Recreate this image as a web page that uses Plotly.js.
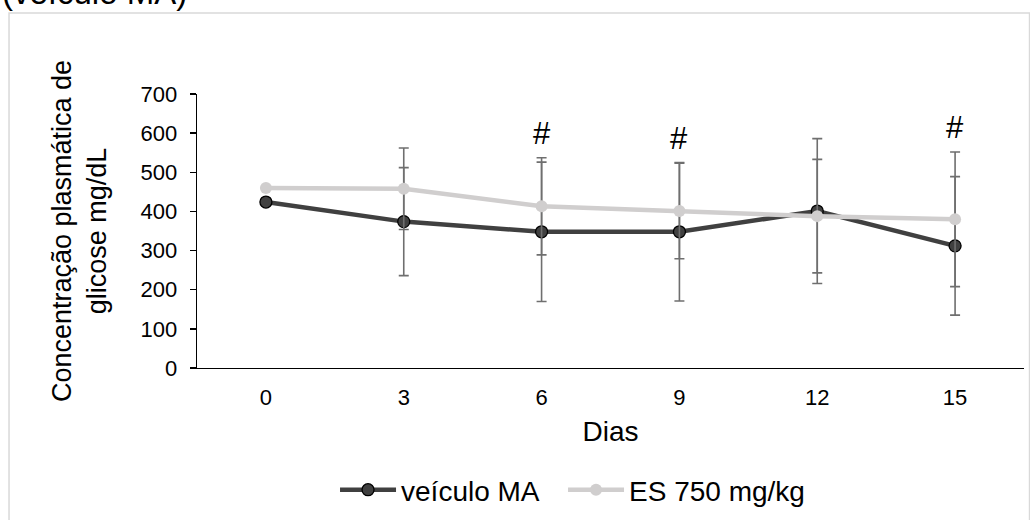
<!DOCTYPE html>
<html>
<head>
<meta charset="utf-8">
<script src="https://cdn.plot.ly/plotly-3.0.1.min.js"></script>
<style>
  html, body { margin: 0; padding: 0; background: #ffffff; }
  #chart { width: 1030px; height: 520px; }
</style>
</head>
<body>
<div id="chart"></div>
<script>
// ---- data ----
const days = ['0', '3', '6', '9', '12', '15'];
const veiculoMA = [424, 374, 348, 348, 401, 312];
const veiculoMAErr = [0, 138, 178, 177, 185, 177];
const es750 = [460, 458, 413, 401, 388, 380];
const es750Err = [0, 104, 124, 122, 145, 172];
const sigMarks = ['', '', '#', '#', '', '#'];
const seriesNames = ['veículo MA', 'ES 750 mg/kg'];
const titleText = '(veículo MA)';
const yTitle = 'Concentração plasmática de<br>glicose mg/dL';
const xTitle = 'Dias';

const FONT = 'Liberation Sans, Arial, sans-serif';
const errColor = '#6f6f6f';

const traces = [
  {
    x: days, y: veiculoMA, name: seriesNames[0], type: 'scatter', mode: 'lines+markers',
    legend: 'legend',
    line: { color: '#404040', width: 4.5 },
    marker: { color: '#404040', size: 12, line: { color: '#000000', width: 1.3 } },
    error_y: { type: 'data', array: veiculoMAErr, visible: true, color: errColor, thickness: 1.6, width: 5 }
  },
  {
    x: days, y: es750, name: seriesNames[1], type: 'scatter', mode: 'lines+markers',
    legend: 'legend2',
    line: { color: '#d0cece', width: 4.5 },
    marker: { color: '#d0cece', size: 12 },
    error_y: { type: 'data', array: es750Err, visible: true, color: errColor, thickness: 1.6, width: 5 }
  }
];

// significance marks placed above the highest error bar at each day
// (x given as category index so numeric-looking labels are not misread)
const annotations = [];
sigMarks.forEach((m, i) => {
  if (!m) return;
  const top = Math.max(veiculoMA[i] + veiculoMAErr[i], es750[i] + es750Err[i]);
  annotations.push({
    x: i, y: top, xref: 'x', yref: 'y', text: m, showarrow: false,
    yanchor: 'middle', yshift: 24, font: { family: FONT, size: 31, color: '#000000' }
  });
});
annotations.push({
  xref: 'paper', yref: 'paper', x: -0.2382, y: 1.37, xanchor: 'left', yanchor: 'middle',
  text: titleText, showarrow: false, font: { family: FONT, size: 33, color: '#000000' }
});

const legendBase = {
  orientation: 'h', xanchor: 'left', y: -0.44, yanchor: 'middle',
  font: { family: FONT, size: 28, color: '#000000' }, itemwidth: 56,
  bgcolor: 'rgba(0,0,0,0)'
};

const layout = {
  width: 1030, height: 520,
  margin: { l: 197, r: 6, t: 94, b: 151 },
  paper_bgcolor: '#ffffff', plot_bgcolor: '#ffffff',
  font: { family: FONT, color: '#000000' },
  showlegend: true,
  legend: Object.assign({}, legendBase, { x: 0.1669 }),
  legend2: Object.assign({}, legendBase, { x: 0.4426 }),
  xaxis: {
    type: 'category', range: [-0.5, 5.5], showgrid: false, zeroline: false,
    showline: true, linecolor: '#000000', linewidth: 1.3, ticks: '',
    tickfont: { family: FONT, size: 22, color: '#000000' }, ticklabelstandoff: 9,
    title: { text: xTitle, font: { family: FONT, size: 28, color: '#000000' }, standoff: 12 },
    automargin: false, fixedrange: true
  },
  yaxis: {
    range: [0, 700], dtick: 100, showgrid: false, zeroline: false,
    showline: true, linecolor: '#000000', linewidth: 1.3, ticks: 'outside', ticklen: 6,
    tickcolor: '#000000', tickwidth: 1.3,
    tickfont: { family: FONT, size: 22, color: '#000000' }, ticklabelstandoff: 8,
    title: { text: yTitle, font: { family: FONT, size: 27, color: '#000000' }, standoff: 26 },
    automargin: false, fixedrange: true
  },
  annotations: annotations,
  shapes: [{
    type: 'rect', xref: 'paper', yref: 'paper', x0: -0.2273, x1: 1.0067, y0: -1, y1: 1.2956,
    line: { color: '#d9d9d9', width: 1.5 }, fillcolor: 'rgba(0,0,0,0)', layer: 'below'
  }]
};

Plotly.newPlot('chart', traces, layout, { displayModeBar: false, staticPlot: true });
</script>
</body>
</html>
